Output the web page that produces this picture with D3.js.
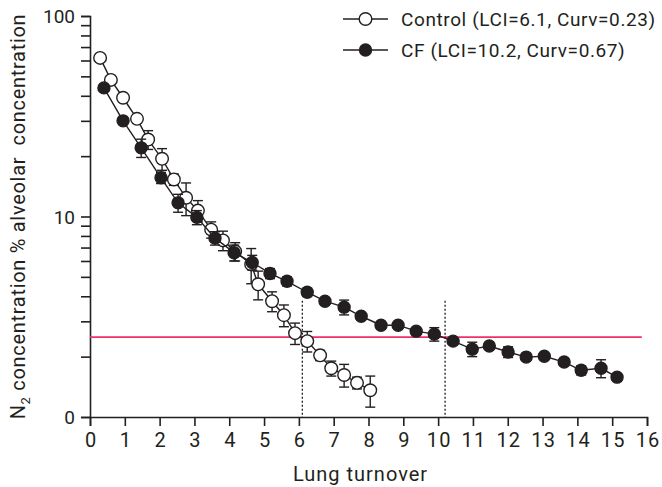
<!DOCTYPE html>
<html>
<head>
<meta charset="utf-8">
<script src="https://cdn.jsdelivr.net/npm/d3@7"></script>
<style>
  body { margin: 0; background: #ffffff; }
  text { font-family: Roboto, "Noto Sans", sans-serif; fill: #231f20; }
</style>
</head>
<body>
<div id="chart"></div>
<script>
/* DATA */
const turnoverControl = [0.29, 0.6, 0.95, 1.35, 1.67, 2.07, 2.41, 2.76, 3.1, 3.48, 3.82, 4.17, 4.63, 4.83, 5.23, 5.57, 5.89, 6.24, 6.61, 6.93, 7.3, 7.67, 8.05];
const n2Control = [61.8, 48.0, 39.1, 30.7, 24.2, 19.4, 15.3, 12.4, 10.7, 8.6, 7.6, 6.7, 5.77, 4.59, 3.78, 3.22, 2.62, 2.39, 2.03, 1.75, 1.62, 1.48, 1.36];
const semControl = [1.5, 1.2, 1.0, 1.2, 2.6, 2.4, 1.0, 2.3, 1.3, 0.8, 0.85, 0.7, 1.15, 0.75, 0.43, 0.4, 0.32, 0.28, 0.12, 0.15, 0.21, 0.1, 0.24];

const turnoverCF = [0.4, 0.95, 1.47, 2.04, 2.53, 3.07, 3.59, 4.14, 4.66, 5.17, 5.66, 6.24, 6.75, 7.3, 7.79, 8.36, 8.85, 9.37, 9.89, 10.43, 10.98, 11.47, 12.01, 12.53, 13.05, 13.62, 14.11, 14.68, 15.14];
const n2CF = [43.8, 30.0, 22.0, 15.6, 11.7, 9.9, 7.8, 6.6, 5.9, 5.2, 4.75, 4.19, 3.78, 3.53, 3.18, 2.87, 2.87, 2.68, 2.59, 2.39, 2.18, 2.26, 2.11, 1.99, 2.01, 1.88, 1.71, 1.75, 1.58];
const semCF = [1.0, 1.0, 2.3, 1.0, 1.2, 0.8, 0.6, 0.6, 0.5, 0.3, 0.25, 0.2, 0.15, 0.3, 0.1, 0.1, 0.1, 0.1, 0.2, 0.08, 0.18, 0.05, 0.13, 0.05, 0.05, 0.05, 0.09, 0.18, 0.05];

const xTickValues = d3.range(0, 17);
const yTickValues = [1, 10, 100];
const yTickLabels = ["0", "10", "100"];
const lciValues = [6.1, 10.2];
const lciLineTop = 3.8;
const targetN2 = 2.5;
const targetEnd = 15.85;
const legendLabels = ["Control (LCI=6.1, Curv=0.23)", "CF (LCI=10.2, Curv=0.67)"];

/* CONSTANTS */
const width = 662, height = 487;
const margin = { top: 16, right: 15, bottom: 70, left: 90 };
const ink = "#231f20";

const svg = d3.select("#chart").append("svg")
  .attr("width", width)
  .attr("height", height);

/* SCALES */
const x = d3.scaleLinear()
  .domain([0, 16])
  .range([margin.left, width - margin.right]);

const y = d3.scaleLog()
  .domain([1, 100])
  .range([height - margin.bottom, margin.top]);

/* AXES */
const yMinor = [];
[1, 10].forEach(base => d3.range(2, 10).forEach(k => yMinor.push(base * k)));

const yAxis = svg.append("g")
  .attr("transform", `translate(${margin.left},0)`)
  .call(d3.axisLeft(y).tickValues(yTickValues.concat(yMinor))
    .tickSize(9).tickPadding(6)
    .tickFormat(d => {
      const i = yTickValues.indexOf(d);
      return i >= 0 ? yTickLabels[i] : "";
    }));
yAxis.selectAll("text").style("font-size", "19px").attr("dy", "0.36em");

const xAxis = svg.append("g")
  .attr("transform", `translate(0,${height - margin.bottom})`)
  .call(d3.axisBottom(x).tickValues(xTickValues).tickSize(9).tickPadding(7));
xAxis.selectAll("text")
  .style("font-size", "20px")
  .style("letter-spacing", "1.2px")
  .attr("dx", "0.6px");

[xAxis, yAxis].forEach(a => {
  a.select(".domain").attr("stroke", ink).attr("stroke-width", 1.6);
  a.selectAll(".tick line").attr("stroke", ink).attr("stroke-width", 1.6);
});

svg.append("text")
  .attr("x", x(8) - 8)
  .attr("y", 481)
  .attr("text-anchor", "middle")
  .style("font-size", "20px")
  .style("letter-spacing", "1px")
  .text("Lung turnover");

const yTitle = svg.append("text")
  .attr("transform", `translate(25,${(margin.top + height - margin.bottom) / 2}) rotate(-90)`)
  .attr("text-anchor", "middle")
  .style("font-size", "20px")
  .style("letter-spacing", "0.7px");
yTitle.append("tspan").text("N");
yTitle.append("tspan").attr("dy", 5).style("font-size", "13px").text("2");
yTitle.append("tspan").attr("dy", -5).text(" concentration % alveolar\u00a0 concentration");

/* REFERENCE LINES */
svg.append("line")
  .attr("x1", x(0)).attr("x2", x(targetEnd))
  .attr("y1", y(targetN2)).attr("y2", y(targetN2))
  .attr("stroke", "#ee3068")
  .attr("stroke-width", 1.8);

svg.selectAll(".lci")
  .data(lciValues)
  .join("line")
  .attr("class", "lci")
  .attr("x1", d => x(d)).attr("x2", d => x(d))
  .attr("y1", y(lciLineTop)).attr("y2", y(1))
  .attr("stroke", ink)
  .attr("stroke-width", 1.3)
  .attr("stroke-dasharray", "2,2");

/* SERIES */
const series = [
  { t: turnoverControl, v: n2Control, e: semControl, fill: "#ffffff", r: 6.3 },
  { t: turnoverCF, v: n2CF, e: semCF, fill: ink, r: 6 }
];

const lineGen = d3.line()
  .x(d => x(d.t))
  .y(d => y(d.v));

series.forEach(s => {
  const pts = s.t.map((t, i) => ({ t, v: s.v[i], e: s.e[i] }));
  const g = svg.append("g");

  g.append("path")
    .attr("d", lineGen(pts))
    .attr("fill", "none")
    .attr("stroke", ink)
    .attr("stroke-width", 1.4);

  const bars = g.selectAll(".err")
    .data(pts)
    .join("g")
    .attr("class", "err")
    .attr("stroke", ink)
    .attr("stroke-width", 1.4);
  bars.append("line")
    .attr("x1", d => x(d.t)).attr("x2", d => x(d.t))
    .attr("y1", d => y(d.v + d.e)).attr("y2", d => y(Math.max(1.01, d.v - d.e)));
  bars.append("line")
    .attr("x1", d => x(d.t) - 5).attr("x2", d => x(d.t) + 5)
    .attr("y1", d => y(d.v + d.e)).attr("y2", d => y(d.v + d.e));
  bars.append("line")
    .attr("x1", d => x(d.t) - 5).attr("x2", d => x(d.t) + 5)
    .attr("y1", d => y(Math.max(1.01, d.v - d.e))).attr("y2", d => y(Math.max(1.01, d.v - d.e)));

  g.selectAll("circle")
    .data(pts)
    .join("circle")
    .attr("cx", d => x(d.t))
    .attr("cy", d => y(d.v))
    .attr("r", s.r)
    .attr("fill", s.fill)
    .attr("stroke", ink)
    .attr("stroke-width", 1.4);
});

/* LEGEND */
const legend = svg.selectAll(".legend")
  .data(legendLabels)
  .join("g")
  .attr("class", "legend")
  .attr("transform", (d, i) => `translate(343,${19 + i * 31})`);

legend.append("line")
  .attr("x1", 0).attr("x2", 45)
  .attr("stroke", ink).attr("stroke-width", 1.4);
legend.append("circle")
  .attr("cx", 22.5)
  .attr("r", (d, i) => series[i].r)
  .attr("fill", (d, i) => series[i].fill)
  .attr("stroke", ink).attr("stroke-width", 1.4);
legend.append("text")
  .attr("x", 58)
  .attr("dy", "0.36em")
  .style("font-size", "19px")
  .style("letter-spacing", "0.6px")
  .text(d => d);
</script>
</body>
</html>
